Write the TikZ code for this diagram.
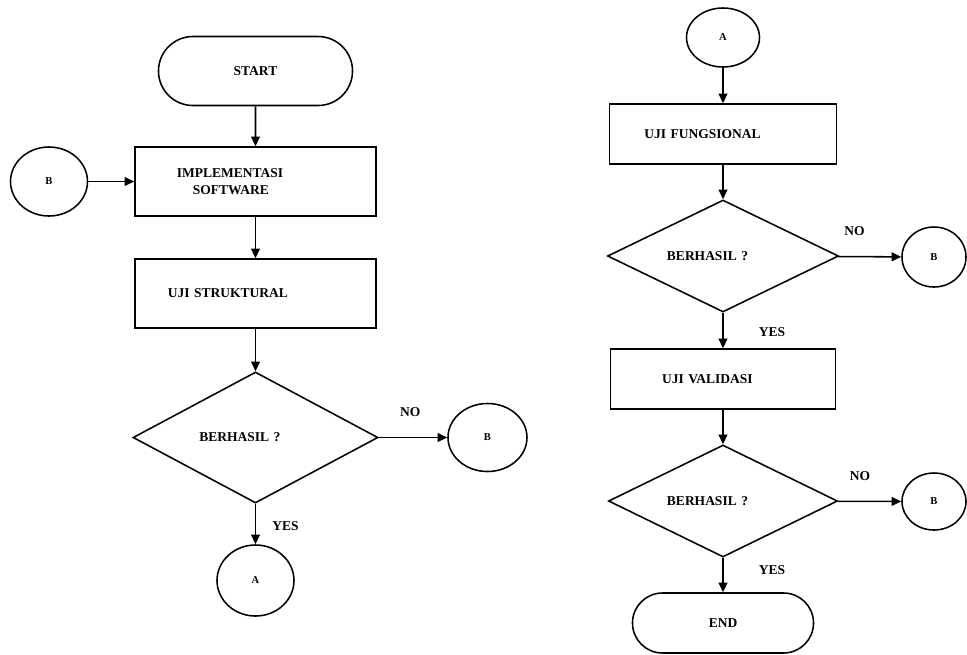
\documentclass[tikz,border=0pt]{standalone}
\usepackage{fontspec}
\setmainfont{Liberation Serif}
\usetikzlibrary{shapes.geometric, shapes.misc, arrows.meta, positioning}

\begin{document}
\begin{tikzpicture}[x=0.025cm, y=-0.025cm, line width=1.1pt,
	>={Triangle[length=2.4mm, width=2.2mm]},
	every node/.style={font=\fontsize{9.6}{12}\selectfont\bfseries},
	term/.style={draw, rounded rectangle, inner sep=0pt},
	proc/.style={draw, rectangle, inner xsep=0pt, align=left},
	dec/.style={draw, diamond, aspect=2, inner sep=0pt, text width=2.8cm, align=left},
	conn/.style={draw, ellipse, inner sep=0pt, font=\fontsize{7.5}{9}\selectfont\bfseries},
	lbl/.style={inner sep=0pt}]
\useasboundingbox (0,0) rectangle (967,654);
% left column
\node[term, minimum width=4.85cm, minimum height=1.725cm] (start) at (255.5,71) {START};
\node[proc, text width=6.025cm, minimum height=1.725cm] (impl) at (255.5,181.5) {\hspace*{1.05cm}IMPLEMENTASI\\\hspace*{1.45cm}SOFTWARE};
\node[conn, minimum width=1.925cm, minimum height=1.725cm] (b1) at (49,181.5) {B};
\node[proc, text width=6.025cm, minimum height=1.725cm] (strukt) at (255.5,293.5) {\hspace*{0.825cm}UJI STRUKTURAL};
\node[dec, minimum width=6.125cm, minimum height=3.275cm] (cek1) at (255.5,437.5) {BERHASIL ?};
\node[conn, minimum width=1.975cm, minimum height=1.7cm] (b2) at (487.5,437.5) {B};
\node[conn, minimum width=1.925cm, minimum height=1.775cm] (a1) at (255.5,580.5) {A};
\draw[->] (start) -- (impl);
\draw[->] (b1) -- (impl);
\draw[->] (impl) -- (strukt);
\draw[->] (strukt) -- (cek1);
\draw[->] (cek1) -- node[lbl, pos=0.46, above=0.5cm] {NO} (b2);
\draw[->] (cek1) -- node[lbl, pos=0.55, right=0.4cm] {YES} (a1);
% right column
\node[conn, minimum width=1.825cm, minimum height=1.475cm] (a2) at (723,37.5) {A};
\node[proc, text width=5.675cm, minimum height=1.5cm] (fungsi) at (723,134) {\hspace*{0.875cm}UJI FUNGSIONAL};
\node[dec, minimum width=5.775cm, minimum height=2.8cm] (cek2) at (723,256) {BERHASIL ?};
\node[conn, minimum width=1.6cm, minimum height=1.5cm] (b3) at (934,257) {B};
\node[proc, text width=5.625cm, minimum height=1.5cm] (valid) at (723,379) {\hspace*{1.29cm}UJI VALIDASI};
\node[dec, minimum width=5.725cm, minimum height=2.8cm] (cek3) at (723,501) {BERHASIL ?};
\node[conn, minimum width=1.6cm, minimum height=1.425cm] (b4) at (934,501.5) {B};
\node[term, minimum width=4.525cm, minimum height=1.5cm] (stop) at (723,623) {END};
\draw[->] (a2) -- (fungsi);
\draw[->] (fungsi) -- (cek2);
\draw[->] (cek2) -- node[lbl, pos=0.26, above=0.5cm] {NO} (b3);
\draw[->] (cek2) -- node[lbl, pos=0.54, right=0.875cm] {YES} (valid);
\draw[->] (valid) -- (cek3);
\draw[->] (cek3) -- node[lbl, pos=0.35, above=0.5cm] {NO} (b4);
\draw[->] (cek3) -- node[lbl, pos=0.36, right=0.875cm] {YES} (stop);
\end{tikzpicture}
\end{document}
